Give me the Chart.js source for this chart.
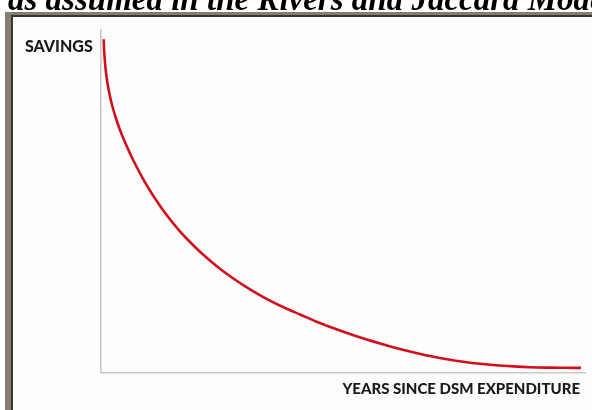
<!DOCTYPE html>
<html>
<head>
<meta charset="utf-8">
<script src="https://cdn.jsdelivr.net/npm/chart.js@4.4.1/dist/chart.umd.min.js"></script>
<style>
  html, body { margin: 0; padding: 0; background: #ffffff; width: 592px; height: 410px; overflow: hidden; }
  #frame { position: absolute; left: 5px; top: 12px; width: 640px; height: 460px;
           background: #857d6f; }
  #inner { position: absolute; left: 6px; top: 3px; right: 0; bottom: 0;
           border-left: 2px solid #3a362f; border-top: 2px solid #3a362f; background: #fdfdfd; }
  #title { position: absolute; left: 8px; top: -17px; white-space: nowrap;
           font-family: "Liberation Serif", serif; font-weight: bold; font-style: italic;
           font-size: 33px; line-height: 32px; color: #000; }
  .lbl { position: absolute; white-space: nowrap; font-family: Lato, sans-serif; font-weight: 900;
         font-size: 15px; line-height: 15px; color: #1a1a1a; }
  #ylbl { left: 25px; top: 38px; font-size: 16px; line-height: 16px; }
  #xlbl { right: 12px; top: 381px; }
  #wrap { position: absolute; left: 0; top: 0; width: 592px; height: 410px; }
</style>
</head>
<body>
<div id="frame"><div id="inner"></div></div>
<div id="wrap"><canvas id="c" width="592" height="410"></canvas></div>
<div id="title">as assumed in the Rivers and Jaccard Model</div>
<div class="lbl" id="ylbl">SAVINGS</div>
<div class="lbl" id="xlbl">YEARS SINCE DSM EXPENDITURE</div>
<script>
// Years since DSM expenditure (x) and savings in relative units (y)
const years   = [0.135, 0.155, 0.19, 0.235, 0.3, 0.385, 0.49, 0.62, 0.775, 0.95,
                 1.25, 1.575, 2.2, 3.025, 3.85, 4.4, 4.95, 5.775, 6.6, 7.45, 8.3,
                 9.125, 9.95, 10.775, 11.6, 12.775, 13.95, 14.75, 15.6, 16.45, 17.3,
                 18.1, 18.95, 19.75, 20.6, 21.45, 22.3, 23.15, 24.0];
const savings = [333.2, 322.5, 312.5, 302.5, 292.5, 282.5, 272.5, 262.5, 252.5, 242.5,
                 227.9, 213.75, 190.2, 164.45, 143.4, 131.5, 120.8, 106.6, 94.2, 83.1, 73.4,
                 65.2, 58, 50.8, 44.5, 36.3, 29.1, 24.6, 20.3, 16.4, 13.2,
                 10.8, 8.7, 7.2, 6.1, 5.3, 4.9, 4.7, 4.6];
const xMax = 24.2;
const yMax = 342.5;

const points = years.map((x, i) => ({ x: x, y: savings[i] }));

new Chart(document.getElementById('c'), {
  type: 'line',
  data: {
    datasets: [{
      data: points,
      borderColor: '#d20f1b',
      borderWidth: 2.6,
      pointRadius: 0,
      fill: false,
      cubicInterpolationMode: 'monotone'
    }]
  },
  options: {
    responsive: false,
    animation: false,
    devicePixelRatio: 1,
    layout: { padding: { left: 101, top: 30, right: 7, bottom: 37.5 } },
    plugins: { legend: { display: false }, tooltip: { enabled: false }, title: { display: false } },
    scales: {
      x: {
        type: 'linear', min: 0, max: xMax,
        ticks: { display: false },
        grid: { display: false, drawTicks: false },
        border: { display: true, color: '#cdc8c3', width: 1.6 }
      },
      y: {
        type: 'linear', min: 0, max: yMax,
        ticks: { display: false },
        grid: { display: false, drawTicks: false },
        border: { display: true, color: '#cdc8c3', width: 1.6 }
      }
    }
  }
});
</script>
</body>
</html>
